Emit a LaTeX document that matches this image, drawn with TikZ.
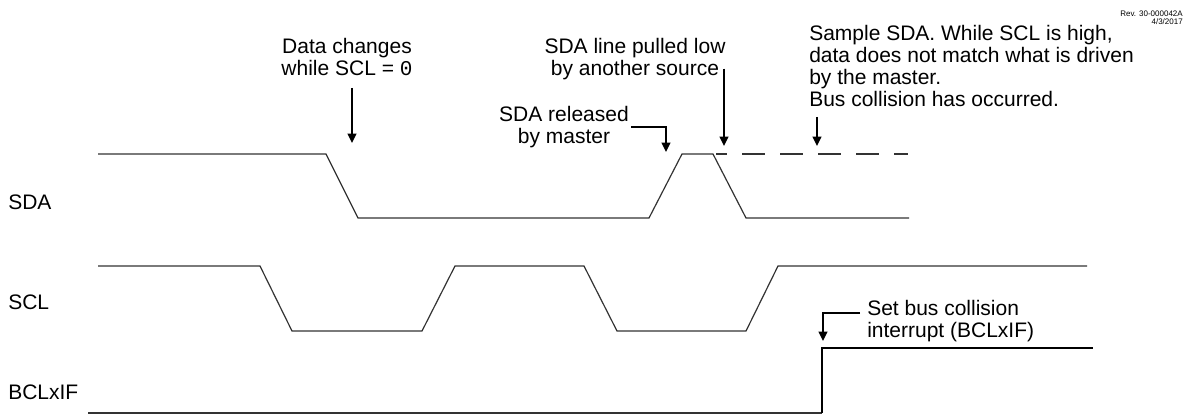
\documentclass[tikz,border=0pt]{standalone}
\usepackage{fontspec}
\setmainfont{Liberation Sans}
\setmonofont{Liberation Mono}
\usetikzlibrary{arrows.meta}

\begin{document}
\begin{tikzpicture}[x=.75pt,y=-.75pt,
  wave/.style={line width=.9pt,black!80},
  flag/.style={-{Triangle[length=7pt,width=6.5pt]},line width=1.3pt},
  note/.style={inner sep=0pt,font=\fontsize{15.75}{16.5}\selectfont}]
 \path[use as bounding box] (0,0) rectangle (1189,414);
 % signal names
 \node[note,anchor=base west] (sda) at (8,209) {SDA};
 \node[note,anchor=base west] (scl) at (8,309) {SCL};
 \node[note,anchor=base west] (bclif) at (8,399) {BCLxIF};
 % waveforms
 \draw[wave] (98,154)--(326,154)--(358,218)--(649,218)--(682,154)--(713,154)--(746,218)--(909,218);
 \draw[wave,dash pattern=on 17.25pt off 11.25pt,dash phase=9pt] (716,154)--(908,154);
 \draw[wave] (98,266)--(260,266)--(292,331)--(422,331)--(455,266)--(584,266)--(617,331)--(746,331)--(778,266)--(1087,266);
 \draw[wave] (88,413)--(822,413);
 \draw[line width=1.4pt] (822,413)--(822,348)--(1093,348);
 % notes
 \node[note,anchor=north,align=center] (chg) at (347,38) {Data changes\\while SCL = {\ttfamily 0}};
 \node[note,anchor=north,align=center] (low) at (635,38) {SDA line pulled low\\by another source};
 \node[note,anchor=north,align=center] (rel) at (564,106) {SDA released\\by master};
 \node[note,anchor=north west,align=left] (smp) at (809,25) {Sample SDA. While SCL is high,\\data does not match what is driven\\by the master.\\Bus collision has occurred.};
 \node[note,anchor=north west,align=left] (bcl) at (867,300) {Set bus collision\\interrupt (BCLxIF)};
 \node[inner sep=0pt,anchor=north east,align=right,font=\fontsize{6}{6}\selectfont] (rev) at (1183,10.3) {Rev. 30-000042A\\4/3/2017};
 % pointers
 \coordinate (chgtip) at (352,143);
 \coordinate (reltip) at (666,152);
 \coordinate (lowtip) at (724,146);
 \coordinate (smptip) at (817,146);
 \coordinate (bcltip) at (823,341);
 \draw[flag] (chgtip |- chg.south) ++(0,12) -- (chgtip);
 \draw[flag] (rel.east) ++(2,0) -| (reltip);
 \draw[flag] (lowtip |- low.south) ++(0,-11.5) -- (lowtip);
 \draw[flag] (smptip |- smp.south) ++(0,10) -- (smptip);
 \draw[flag] (bcl.north west) ++(-7,13) -| (bcltip);
\end{tikzpicture}
\end{document}
